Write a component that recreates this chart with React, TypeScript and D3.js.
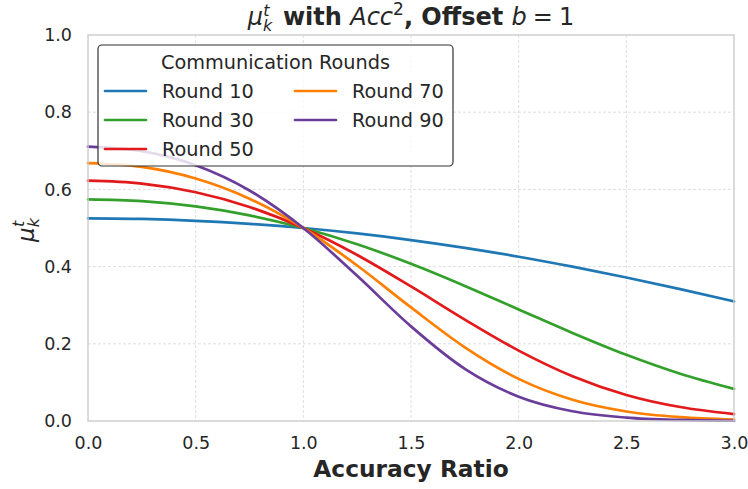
import { useRef, useEffect } from "react";
import * as d3 from "d3";

// accuracy ratio samples
const ratios = [0, 0.25, 0.5, 0.75, 1, 1.25, 1.5, 1.75, 2, 2.25, 2.5, 2.75, 3];

const rounds = [10, 30, 50, 70, 90];
const roundColors = ["#1f78b4", "#33a02c", "#e31a1c", "#ff7f00", "#6a3d9a"];

// mu values, one array per round
const round10 = [0.525, 0.5234, 0.5187, 0.5109, 0.5, 0.4859, 0.4688, 0.4486, 0.4256, 0.3998, 0.3717, 0.3416, 0.31];
const round30 = [0.5744, 0.5698, 0.556, 0.5328, 0.5, 0.4579, 0.4073, 0.35, 0.2891, 0.2282, 0.1715, 0.1225, 0.0832];
const round50 = [0.6225, 0.6151, 0.5927, 0.5545, 0.5, 0.4302, 0.3486, 0.2628, 0.1824, 0.116, 0.0675, 0.0362, 0.018];
const round70 = [0.6682, 0.6584, 0.6283, 0.576, 0.5, 0.4028, 0.2942, 0.191, 0.1091, 0.055, 0.0247, 0.01, 0.0037];
const round90 = [0.7109, 0.6992, 0.6626, 0.5972, 0.5, 0.3761, 0.2451, 0.1351, 0.063, 0.0252, 0.0088, 0.0027, 0.0007];

const seriesValues = [round10, round30, round50, round70, round90];

const xTicks = [0, 0.5, 1, 1.5, 2, 2.5, 3];
const yTicks = [0, 0.2, 0.4, 0.6, 0.8, 1.0];

export default function App() {
  const svgRef = useRef<SVGSVGElement | null>(null);

  useEffect(() => {
    if (!svgRef.current) return;
    const svg = d3.select(svgRef.current);
    svg.selectAll("*").remove();

    const width = 748;
    const height = 489;
    const left = 88, right = 734, top = 35, bottom = 421;
    const font = "DejaVu Sans, sans-serif";
    const textColor = "#262626";

    const x = d3.scaleLinear().domain([0, 3]).range([left, right]);
    const y = d3.scaleLinear().domain([0, 1]).range([bottom, top]);

    svg.append("rect").attr("width", width).attr("height", height).attr("fill", "#fff");

    // grid
    const grid = svg.append("g").attr("stroke", "#d5d5d5").attr("stroke-width", 0.8).attr("stroke-dasharray", "3,2");
    xTicks.slice(1, -1).forEach(t => {
      grid.append("line").attr("x1", x(t)).attr("x2", x(t)).attr("y1", top).attr("y2", bottom);
    });
    yTicks.slice(1, -1).forEach(t => {
      grid.append("line").attr("x1", left).attr("x2", right).attr("y1", y(t)).attr("y2", y(t));
    });

    // curves
    const line = d3.line<number>()
      .x((_, i) => x(ratios[i]))
      .y(d => y(d))
      .curve(d3.curveMonotoneX);

    seriesValues.forEach((vals, i) => {
      svg.append("path")
        .datum(vals)
        .attr("fill", "none")
        .attr("stroke", roundColors[i])
        .attr("stroke-width", 2.7)
        .attr("stroke-linecap", "round")
        .attr("d", line);
    });

    // frame
    svg.append("rect")
      .attr("x", left).attr("y", top)
      .attr("width", right - left).attr("height", bottom - top)
      .attr("fill", "none").attr("stroke", "#cccccc").attr("stroke-width", 1.4);

    // ticks
    const xAxis = svg.append("g")
      .attr("transform", `translate(0,${bottom})`)
      .call(d3.axisBottom(x).tickValues(xTicks).tickFormat(d3.format(".1f")).tickSize(0).tickPadding(16));
    const yAxis = svg.append("g")
      .attr("transform", `translate(${left},0)`)
      .call(d3.axisLeft(y).tickValues(yTicks).tickFormat(d3.format(".1f")).tickSize(0).tickPadding(16));
    [xAxis, yAxis].forEach(a => {
      a.select(".domain").remove();
      a.selectAll("text").attr("font-family", font).attr("font-size", 17.5).attr("fill", textColor);
    });

    // axis labels
    svg.append("text")
      .attr("x", (left + right) / 2).attr("y", 477)
      .attr("text-anchor", "middle")
      .attr("font-family", font).attr("font-size", 23.3).attr("font-weight", "bold")
      .attr("fill", textColor)
      .text("Accuracy Ratio");

    const yl = svg.append("text")
      .attr("transform", `translate(34,${(top + bottom) / 2 + 2}) rotate(-90)`)
      .attr("text-anchor", "middle")
      .attr("font-family", font).attr("font-size", 23).attr("fill", textColor);
    yl.append("tspan").attr("font-style", "italic").text("μ");
    yl.append("tspan").attr("font-style", "italic").attr("font-size", 16).attr("dy", 5).text("k");
    yl.append("tspan").attr("font-style", "italic").attr("font-size", 16).attr("dx", -9).attr("dy", -15).text("t");

    // title
    const title = svg.append("text")
      .attr("x", (left + right) / 2).attr("y", 25)
      .attr("text-anchor", "middle")
      .attr("font-family", font).attr("font-size", 24).attr("fill", textColor);
    title.append("tspan").attr("font-style", "italic").text("μ");
    title.append("tspan").attr("font-style", "italic").attr("font-size", 16).attr("dy", 6).text("k");
    title.append("tspan").attr("font-style", "italic").attr("font-size", 16).attr("dx", -9).attr("dy", -15).text("t");
    title.append("tspan").attr("font-weight", "bold").attr("dx", 5).attr("dy", 9).text(" with ");
    title.append("tspan").attr("font-style", "italic").text("Acc");
    title.append("tspan").attr("font-size", 17).attr("dy", -10).text("2");
    title.append("tspan").attr("font-weight", "bold").attr("dy", 10).text(", Offset ");
    title.append("tspan").attr("font-style", "italic").text("b");
    title.append("tspan").attr("dx", 6).text("=");
    title.append("tspan").attr("dx", 6).text("1");

    // legend
    const lg = svg.append("g");
    lg.append("rect")
      .attr("x", 98).attr("y", 45).attr("width", 355).attr("height", 121)
      .attr("rx", 4)
      .attr("fill", "#fff").attr("fill-opacity", 0.82)
      .attr("stroke", "#333").attr("stroke-width", 1.2);
    lg.append("text")
      .attr("x", 275.5).attr("y", 69)
      .attr("text-anchor", "middle")
      .attr("font-family", font).attr("font-size", 19.3).attr("fill", textColor)
      .text("Communication Rounds");
    rounds.forEach((r, i) => {
      const col = Math.floor(i / 3);
      const row = i % 3;
      const hx = col === 0 ? 105 : 295;
      const ry = 91 + row * 29;
      lg.append("line")
        .attr("x1", hx).attr("x2", hx + 41).attr("y1", ry).attr("y2", ry)
        .attr("stroke", roundColors[i]).attr("stroke-width", 2.7).attr("stroke-linecap", "round");
      lg.append("text")
        .attr("x", hx + 57).attr("y", ry + 7)
        .attr("font-family", font).attr("font-size", 19.3).attr("fill", textColor)
        .text(`Round ${r}`);
    });
  }, []);

  return <svg ref={svgRef} width={748} height={489} style={{ display: "block", position: "absolute", left: 0, top: 0 }}></svg>;
}
